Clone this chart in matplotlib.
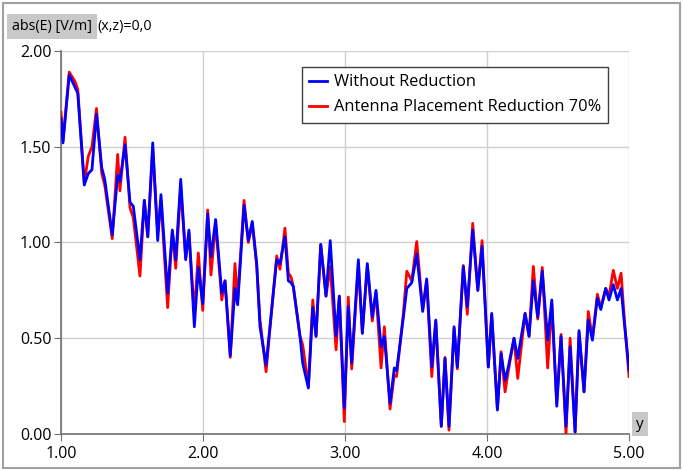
import matplotlib
matplotlib.use("Agg")
import matplotlib.pyplot as plt
from matplotlib.patches import Rectangle

plt.rcParams['font.family'] = ['Open Sans', 'DejaVu Sans']

# position along y and |E| for both runs (peaks and troughs of the field)
y_pos = [1.000, 1.014, 1.058, 1.099, 1.118, 1.164, 1.192, 1.218, 1.250, 1.287,
         1.308, 1.361, 1.399, 1.415, 1.451, 1.486, 1.509, 1.556, 1.587, 1.611,
         1.646, 1.681, 1.704, 1.751, 1.784, 1.808, 1.843, 1.878, 1.901, 1.939,
         1.967, 1.998, 2.033, 2.056, 2.089, 2.132, 2.155, 2.192, 2.225, 2.244,
         2.289, 2.319, 2.347, 2.378, 2.401, 2.444, 2.495, 2.519, 2.542, 2.577,
         2.601, 2.620, 2.636, 2.683, 2.702, 2.742, 2.773, 2.796, 2.829, 2.866,
         2.896, 2.937, 2.960, 2.995, 3.023, 3.047, 3.094, 3.122, 3.157, 3.192,
         3.218, 3.254, 3.277, 3.317, 3.347, 3.363, 3.411, 3.435, 3.470, 3.505,
         3.547, 3.575, 3.611, 3.639, 3.678, 3.704, 3.732, 3.768, 3.791, 3.833,
         3.861, 3.899, 3.935, 3.965, 4.009, 4.033, 4.073, 4.099, 4.127, 4.150,
         4.190, 4.216, 4.268, 4.296, 4.326, 4.357, 4.389, 4.427, 4.456, 4.491,
         4.521, 4.556, 4.585, 4.620, 4.648, 4.683, 4.713, 4.742, 4.777, 4.801,
         4.836, 4.859, 4.889, 4.918, 4.944, 4.967, 5.000]

e_without = [1.65, 1.52, 1.875, 1.81, 1.78, 1.30, 1.36, 1.38, 1.67, 1.39,
             1.33, 1.04, 1.35, 1.32, 1.51, 1.21, 1.19, 0.91, 1.22, 1.03,
             1.52, 1.01, 1.25, 0.735, 1.065, 0.91, 1.33, 0.91, 1.065, 0.56,
             0.87, 0.68, 1.15, 0.925, 1.12, 0.735, 0.80, 0.41, 0.76, 0.675,
             1.195, 1.01, 1.11, 0.89, 0.56, 0.36, 0.735, 0.91, 0.89, 1.03,
             0.80, 0.79, 0.77, 0.51, 0.37, 0.24, 0.66, 0.51, 0.99, 0.72,
             1.01, 0.51, 0.72, 0.135, 0.665, 0.37, 0.91, 0.525, 0.89, 0.61,
             0.75, 0.455, 0.51, 0.16, 0.345, 0.33, 0.61, 0.76, 0.79, 0.94,
             0.64, 0.81, 0.35, 0.595, 0.04, 0.395, 0.04, 0.56, 0.35, 0.875,
             0.665, 1.065, 0.75, 0.98, 0.35, 0.63, 0.125, 0.42, 0.28, 0.35,
             0.50, 0.395, 0.63, 0.51, 0.80, 0.61, 0.85, 0.49, 0.70, 0.145,
             0.51, 0.04, 0.455, 0.01, 0.54, 0.22, 0.595, 0.49, 0.71, 0.65,
             0.76, 0.70, 0.78, 0.70, 0.76, 0.58, 0.335]

e_reduced = [1.68, 1.53, 1.89, 1.84, 1.80, 1.31, 1.45, 1.50, 1.70, 1.36,
             1.30, 1.02, 1.46, 1.27, 1.55, 1.18, 1.13, 0.825, 1.22, 1.03,
             1.49, 1.05, 1.22, 0.66, 1.06, 0.865, 1.29, 0.92, 1.05, 0.63,
             0.945, 0.645, 1.17, 0.83, 1.10, 0.70, 0.80, 0.40, 0.89, 0.70,
             1.22, 1.00, 1.10, 0.88, 0.60, 0.325, 0.74, 0.93, 0.86, 1.075,
             0.84, 0.82, 0.77, 0.51, 0.465, 0.25, 0.70, 0.51, 0.99, 0.72,
             0.875, 0.44, 0.72, 0.065, 0.715, 0.34, 0.89, 0.53, 0.88, 0.59,
             0.74, 0.345, 0.56, 0.13, 0.31, 0.30, 0.63, 0.85, 0.80, 1.005,
             0.65, 0.80, 0.30, 0.59, 0.04, 0.40, 0.02, 0.55, 0.34, 0.88,
             0.625, 1.10, 0.75, 1.01, 0.35, 0.62, 0.13, 0.43, 0.22, 0.33,
             0.50, 0.29, 0.63, 0.51, 0.875, 0.60, 0.87, 0.345, 0.68, 0.16,
             0.52, 0.00, 0.50, 0.01, 0.53, 0.22, 0.64, 0.50, 0.73, 0.66,
             0.76, 0.72, 0.855, 0.76, 0.84, 0.60, 0.30]

x_ticks = [1.0, 2.0, 3.0, 4.0, 5.0]
y_ticks = [0.0, 0.5, 1.0, 1.5, 2.0]

fig = plt.figure(figsize=(6.83, 4.70), dpi=100)
ax = fig.add_axes([0.0893, 0.0766, 0.8317, 0.8149])

ax.plot(y_pos, e_reduced, color='#ff0000', lw=2.0, solid_joinstyle='round',
        label='Antenna Placement Reduction 70%', zorder=3)
ax.plot(y_pos, e_without, color='#0000ff', lw=2.0, solid_joinstyle='round',
        label='Without Reduction', zorder=4)

ax.set_xlim(1, 5)
ax.set_ylim(0, 2)
ax.set_xticks(x_ticks)
ax.set_yticks(y_ticks)
ax.set_xticklabels(['%.2f' % v for v in x_ticks])
ax.set_yticklabels(['%.2f' % v for v in y_ticks])
ax.grid(True, color='#d0d0d0', lw=1)
ax.set_axisbelow(True)
for s in ['top', 'right']:
    ax.spines[s].set_visible(False)
for s in ['left', 'bottom']:
    ax.spines[s].set_color('#707070')
    ax.spines[s].set_linewidth(1.2)
ax.tick_params(axis='both', direction='out', length=5, color='#707070',
               labelsize=11.5, labelcolor='#000000')
ax.tick_params(axis='y', pad=2)

# legend in blue-then-red order
h, l = ax.get_legend_handles_labels()
leg = ax.legend(h[::-1], l[::-1], loc='upper left', bbox_to_anchor=(0.424, 0.958),
                borderaxespad=0, fontsize=11.8, fancybox=False, framealpha=1,
                edgecolor='#404040', handlelength=1.1, handletextpad=0.4,
                borderpad=0.45, labelspacing=0.55)
leg.get_frame().set_linewidth(1.0)

# header labels
fig.text(0.018, 0.943, 'abs(E) [V/m]', fontsize=10.3, va='center', ha='left',
         bbox=dict(boxstyle='square,pad=0.35', fc='#c8c8c8', ec='none'))
fig.text(0.143, 0.943, '(x,z)=0,0', fontsize=10.3, va='center', ha='left')
fig.text(0.937, 0.097, 'y', fontsize=11, va='center', ha='center',
         bbox=dict(boxstyle='square,pad=0.3', fc='#c8c8c8', ec='none'))

# outer frame
fig.patches.append(Rectangle((0.004, 0.004), 0.992, 0.99, transform=fig.transFigure,
                             fill=False, ec='#a0a0a0', lw=1.5))

fig.savefig('out.png', dpi=100)
